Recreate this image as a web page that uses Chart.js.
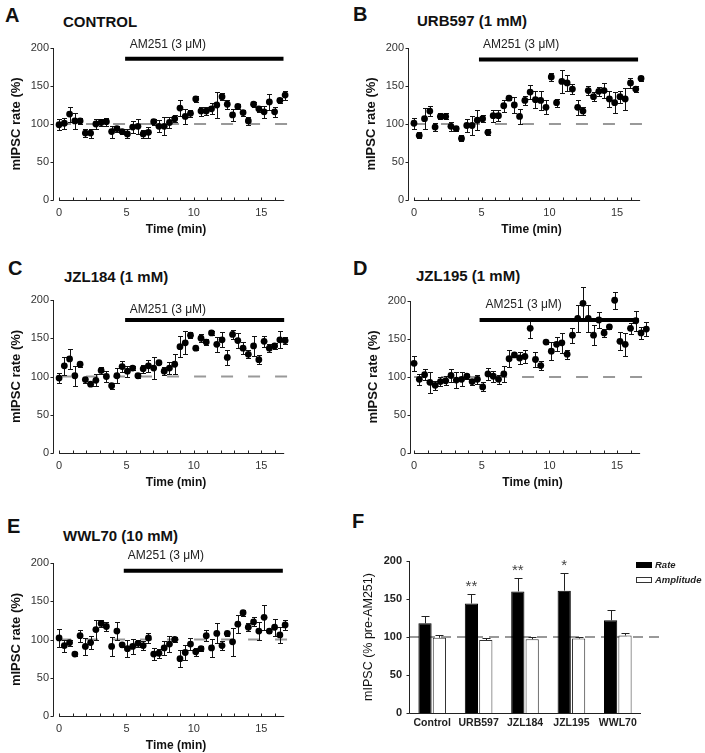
<!DOCTYPE html>
<html>
<head>
<meta charset="utf-8">
<title>mIPSC rate during AM251</title>
<script src="https://cdn.jsdelivr.net/npm/chart.js@4.4.1/dist/chart.umd.min.js"></script>
<style>
  html, body { margin: 0; padding: 0; background: #fff; }
  body { position: relative; width: 705px; height: 753px; overflow: hidden; font-family: 'Liberation Sans', Arial, sans-serif; color: #111; }
  canvas { position: absolute; }
  .txt { position: absolute; line-height: 1; white-space: nowrap; font-weight: bold; }
</style>
</head>
<body>
<script>
// sample times (min)
const minutes = [0, 0.39, 0.78, 1.17, 1.56, 1.95, 2.34, 2.73, 3.12, 3.51, 3.9, 4.29, 4.68, 5.07, 5.46,
  5.85, 6.24, 6.63, 7.02, 7.41, 7.8, 8.19, 8.58, 8.97, 9.36, 9.75, 10.14, 10.53, 10.92, 11.31,
  11.7, 12.09, 12.48, 12.87, 13.26, 13.65, 14.04, 14.43, 14.82, 15.21, 15.6, 15.99, 16.38, 16.77, 17.16];

// mIPSC rate (%) and SEM per panel
const controlRate = [99, 101, 113, 104, 104, 88, 88, 100, 102, 103, 90, 94, 90, 87, 96, 97, 87, 89, 103, 97, 97, 102, 107, 121, 110, 114, 133, 117, 117, 120, 125, 136, 126, 112, 123, 115, 104, 126, 120, 116, 129, 116, 131, 138];
const controlErr = [7, 7, 10, 10, 4, 5, 6, 6, 5, 5, 8, 4, 3, 6, 8, 10, 5, 7, 4, 8, 12, 7, 5, 10, 10, 5, 4, 6, 5, 7, 17, 5, 6, 8, 3, 4, 5, 3, 4, 8, 10, 7, 3, 6];

const urbRate = [101, 85, 107, 117, 96, 110, 110, 97, 94, 81, 98, 98, 105, 107, 89, 111, 111, 124, 134, 125, 110, 131, 142, 132, 131, 122, 162, 128, 156, 154, 146, 122, 117, 144, 136, 143, 144, 133, 128, 136, 133, 154, 146, 160];
const urbErr = [7, 4, 14, 7, 5, 4, 4, 6, 3, 4, 9, 12, 13, 5, 4, 8, 7, 8, 3, 11, 10, 6, 9, 11, 12, 9, 5, 5, 15, 10, 7, 10, 5, 6, 6, 6, 10, 10, 14, 8, 15, 6, 4, 3];

const jzl184Rate = [98, 114, 123, 101, 116, 96, 90, 95, 108, 100, 88, 101, 113, 107, 111, 101, 110, 114, 111, 118, 107, 111, 116, 139, 144, 154, 137, 150, 145, 157, 142, 148, 125, 155, 147, 137, 129, 140, 122, 146, 137, 140, 148, 147];
const jzl184Err = [6, 12, 13, 13, 3, 4, 3, 8, 5, 7, 4, 10, 7, 7, 3, 3, 5, 8, 14, 2, 5, 8, 13, 14, 15, 4, 2, 5, 4, 3, 10, 10, 10, 6, 10, 8, 5, 13, 6, 7, 5, 4, 11, 5];

const jzl195Rate = [118, 97, 103, 93, 89, 94, 95, 102, 96, 97, 101, 94, 97, 87, 104, 101, 97, 104, 124, 129, 125, 127, 164, 123, 115, 146, 134, 143, 145, 130, 155, 177, 197, 177, 155, 175, 158, 166, 201, 147, 143, 164, 174, 158, 163];
const jzl195Err = [10, 7, 7, 14, 6, 6, 6, 8, 10, 9, 3, 4, 6, 6, 8, 7, 6, 10, 11, 3, 8, 8, 13, 10, 6, 2, 12, 9, 13, 6, 10, 18, 21, 18, 13, 10, 5, 3, 11, 12, 15, 7, 13, 8, 9];

const wwlRate = [102, 92, 96, 81, 105, 91, 96, 113, 121, 117, 91, 111, 93, 88, 91, 95, 92, 102, 81, 82, 89, 94, 100, 75, 83, 94, 84, 88, 105, 89, 108, 92, 108, 97, 120, 135, 116, 123, 111, 129, 111, 116, 106, 119];
const wwlErr = [12, 8, 4, 3, 8, 11, 9, 13, 5, 6, 12, 12, 3, 11, 10, 5, 6, 6, 8, 6, 9, 10, 3, 11, 10, 8, 5, 3, 7, 12, 13, 6, 3, 18, 12, 4, 5, 6, 12, 16, 3, 11, 10, 7];

// panel F summary (% pre-AM251)
const groups = ['Control', 'URB597', 'JZL184', 'JZL195', 'WWL70'];
const rateMean = [118, 144, 160, 161, 122];
const rateSem = [10, 12, 17, 23, 14];
const ampMean = [99, 96, 97, 98, 102];
const ampSem = [4, 3, 3, 2, 3];
const stars = ['', '**', '**', '*', ''];

const timeTicks = [0, 5, 10, 15];
const rateTicks = [0, 50, 100, 150, 200];

Chart.defaults.font.family = "'Liberation Sans', Arial, sans-serif";
Chart.defaults.color = '#333';

function placeText(text, left, baseline, size, family) {
  const d = document.createElement('div');
  d.className = 'txt';
  d.textContent = text;
  d.style.left = left + 'px';
  d.style.top = (baseline - 0.8465 * size) + 'px';
  d.style.fontSize = size + 'px';
  if (family) d.style.fontFamily = family;
  document.body.appendChild(d);
}

function makeCanvas(area, pad) {
  const cv = document.createElement('canvas');
  const w = area.x1 - area.x0 + pad.l + pad.r;
  const h = area.y1 - area.y0 + pad.t + pad.b;
  cv.width = w; cv.height = h;
  cv.style.width = w + 'px'; cv.style.height = h + 'px';
  cv.style.left = (area.x0 - pad.l) + 'px';
  cv.style.top = (area.y0 - pad.t) + 'px';
  document.body.appendChild(cv);
  return cv;
}

// axes drawn by hand: offset x axis with minor ticks pointing up
const frame = {
  id: 'frame',
  beforeDatasetsDraw(chart, args, o) {
    const {ctx, scales: {x, y}} = chart;
    const left = Math.round(chart.chartArea.left) + 0.5;
    const base = Math.round(y.getPixelForValue(0)) + 0.5;
    ctx.save();
    ctx.strokeStyle = '#222';
    ctx.lineWidth = 1;
    ctx.beginPath();
    ctx.moveTo(left, Math.round(y.getPixelForValue(200)));
    ctx.lineTo(left, base);
    rateTicks.forEach(v => {
      const py = Math.round(y.getPixelForValue(v)) + 0.5;
      ctx.moveTo(left - 3, py); ctx.lineTo(left, py);
    });
    if (o.xEnd !== undefined) {
      ctx.moveTo(x.getPixelForValue(0), base);
      ctx.lineTo(x.getPixelForValue(o.xEnd), base);
      for (let m = 0; m <= Math.floor(o.xEnd); m++) {
        const px = Math.round(x.getPixelForValue(m)) + 0.5;
        ctx.moveTo(px, base); ctx.lineTo(px, base - 3);
      }
    } else {
      ctx.moveTo(left, base); ctx.lineTo(chart.chartArea.right, base);
    }
    ctx.stroke();
    ctx.restore();
  }
};

// grey dashed 100 % line
const refLine = {
  id: 'refLine',
  beforeDatasetsDraw(chart, args, o) {
    const {ctx, scales: {x, y}} = chart;
    const py = y.getPixelForValue(100);
    const x0 = o.fromZero ? x.getPixelForValue(0) : chart.chartArea.left;
    ctx.save();
    ctx.strokeStyle = '#999';
    ctx.lineWidth = 2;
    ctx.setLineDash(o.dash);
    ctx.beginPath();
    ctx.moveTo(x0, py);
    ctx.lineTo(chart.chartArea.right + (o.extend || 0), py);
    ctx.stroke();
    ctx.restore();
  }
};

const errorBars = {
  id: 'errorBars',
  beforeDatasetsDraw(chart) {
    const {ctx, scales: {x, y}} = chart;
    ctx.save();
    ctx.strokeStyle = '#111';
    ctx.lineWidth = 1;
    ctx.beginPath();
    chart.data.datasets[0].data.forEach(d => {
      const px = Math.round(x.getPixelForValue(d.x)) + 0.5;
      const top = Math.round(y.getPixelForValue(d.y + d.e)) + 0.5;
      const bot = Math.round(y.getPixelForValue(d.y - d.e)) + 0.5;
      ctx.moveTo(px, top); ctx.lineTo(px, bot);
      ctx.moveTo(px - 2.5, top); ctx.lineTo(px + 2.5, top);
      ctx.moveTo(px - 2.5, bot); ctx.lineTo(px + 2.5, bot);
    });
    ctx.stroke();
    ctx.restore();
  }
};

// AM251 application bar and its label
const drug = {
  id: 'drug',
  afterDatasetsDraw(chart, args, o) {
    const {ctx, scales: {x, y}} = chart;
    ctx.save();
    ctx.strokeStyle = '#000';
    ctx.lineWidth = 4;
    ctx.beginPath();
    ctx.moveTo(x.getPixelForValue(o.from), y.getPixelForValue(o.level));
    ctx.lineTo(x.getPixelForValue(o.to), y.getPixelForValue(o.level));
    ctx.stroke();
    ctx.fillStyle = '#222';
    ctx.font = "12px 'Liberation Sans', Arial, sans-serif";
    ctx.textBaseline = 'middle';
    ctx.fillText(o.text, x.getPixelForValue(o.textX), y.getPixelForValue(o.textY));
    ctx.restore();
  }
};

const panels = [
  {letter: 'A', lx: 5, lb: 22, title: 'CONTROL', tx: 63, tb: 27, rate: controlRate, err: controlErr,
   area: {x0: 53, y0: 48, x1: 299, y1: 200}, xmin: -0.45, bar: {level: 186, from: 4.9, to: 16.65, textX: 5.25, textY: 204}},
  {letter: 'B', lx: 353, lb: 21, title: 'URB597 (1 mM)', tx: 417, tb: 26, rate: urbRate, err: urbErr,
   area: {x0: 408, y0: 48, x1: 655, y1: 200}, xmin: -0.44, bar: {level: 185, from: 4.8, to: 16.55, textX: 5.1, textY: 204}},
  {letter: 'C', lx: 8, lb: 275, title: 'JZL184 (1 mM)', tx: 64, tb: 282, rate: jzl184Rate, err: jzl184Err,
   area: {x0: 53, y0: 300, x1: 299, y1: 453}, xmin: -0.45, bar: {level: 174, from: 4.9, to: 16.7, textX: 5.25, textY: 187}},
  {letter: 'D', lx: 353, lb: 275, title: 'JZL195 (1 mM)', tx: 416, tb: 281, rate: jzl195Rate, err: jzl195Err,
   area: {x0: 410, y0: 301, x1: 655, y1: 453}, xmin: -0.3, bar: {level: 175, from: 4.84, to: 16.6, textX: 5.28, textY: 195}},
  {letter: 'E', lx: 7, lb: 533, title: 'WWL70 (10 mM)', tx: 63, tb: 541, rate: wwlRate, err: wwlErr,
   area: {x0: 53, y0: 563, x1: 299, y1: 716}, xmin: -0.45, bar: {level: 190, from: 4.8, to: 16.6, textX: 5.1, textY: 209}}
];

const pad = {l: 52, t: 20, r: 8, b: 42};

panels.forEach(p => {
  placeText(p.letter, p.lx, p.lb, 20);
  placeText(p.title, p.tx, p.tb, 15);
  const cv = makeCanvas(p.area, pad);
  new Chart(cv, {
    type: 'scatter',
    data: {
      datasets: [{
        data: p.rate.map((v, i) => ({x: minutes[i], y: v, e: p.err[i]})),
        backgroundColor: '#000',
        borderWidth: 0,
        pointRadius: 3.4,
        pointHoverRadius: 3.4,
        clip: false
      }]
    },
    options: {
      responsive: false,
      animation: false,
      events: [],
      layout: {padding: {top: pad.t, right: pad.r, left: 0, bottom: 0}},
      plugins: {
        legend: {display: false},
        tooltip: {enabled: false},
        frame: {xEnd: 16.7},
        refLine: {fromZero: true, dash: [12, 15]},
        drug: Object.assign({text: 'AM251 (3 \u03bcM)'}, p.bar)
      },
      scales: {
        x: {
          type: 'linear', min: p.xmin, max: 17.8,
          afterBuildTicks: s => { s.ticks = timeTicks.map(v => ({value: v})); },
          afterFit: s => { s.height = pad.b; },
          grid: {display: false, drawTicks: false},
          border: {display: false},
          ticks: {padding: 6, color: '#333', font: {size: 11}, maxRotation: 0, autoSkip: false},
          title: {display: true, text: 'Time (min)', color: '#111', font: {size: 12, weight: 'bold'}, padding: {top: 0, bottom: 5}}
        },
        y: {
          min: 0, max: 200,
          afterBuildTicks: s => { s.ticks = rateTicks.map(v => ({value: v})); },
          afterFit: s => { s.width = pad.l; },
          grid: {display: false, drawTicks: false},
          border: {display: false},
          ticks: {padding: 4, color: '#333', font: {size: 11}},
          title: {display: true, text: 'mIPSC rate (%)', color: '#111', font: {size: 13, weight: 'bold'}, padding: {top: 8, bottom: 0}}
        }
      }
    },
    plugins: [frame, refLine, errorBars, drug]
  });
});

// panel F: bars with upward SEM, stars and legend
const barExtras = {
  id: 'barExtras',
  afterDatasetsDraw(chart) {
    const {ctx, scales: {y}} = chart;
    ctx.save();
    ctx.lineWidth = 1;
    ctx.strokeStyle = '#222';
    ctx.beginPath();
    chart.data.datasets.forEach((ds, di) => {
      chart.getDatasetMeta(di).data.forEach((bar, i) => {
        const px = Math.round(bar.x) + 0.5;
        const top = Math.round(y.getPixelForValue(ds.data[i] + ds.sem[i])) + 0.5;
        ctx.moveTo(px, y.getPixelForValue(ds.data[i])); ctx.lineTo(px, top);
        ctx.moveTo(px - 4, top); ctx.lineTo(px + 4, top);
      });
    });
    ctx.stroke();
    ctx.fillStyle = '#444';
    ctx.font = "15px 'Liberation Sans', Arial, sans-serif";
    ctx.textAlign = 'center';
    ctx.textBaseline = 'alphabetic';
    const rate = chart.data.datasets[0];
    chart.getDatasetMeta(0).data.forEach((bar, i) => {
      if (stars[i]) ctx.fillText(stars[i], bar.x, y.getPixelForValue(rate.data[i] + rate.sem[i]) - 3);
    });
    // legend
    const lx = chart.chartArea.right - 5;
    ctx.textAlign = 'left';
    ctx.font = "italic bold 9.5px 'Liberation Sans', Arial, sans-serif";
    chart.data.datasets.forEach((ds, di) => {
      const ty = Math.round(chart.chartArea.top) + 1 + di * 15;
      ctx.fillStyle = ds.backgroundColor;
      ctx.fillRect(lx, ty, 16, 6);
      ctx.strokeStyle = ds.borderColor;
      ctx.strokeRect(lx + 0.5, ty + 0.5, 15, 5);
      ctx.fillStyle = '#222';
      ctx.fillText(ds.label, lx + 19, ty + 6);
    });
    ctx.restore();
  }
};

placeText('F', 352, 528, 20);
const padF = {l: 52, t: 20, r: 64, b: 30};
const cvF = makeCanvas({x0: 409, y0: 561, x1: 641, y1: 713}, padF);
new Chart(cvF, {
  type: 'bar',
  data: {
    labels: groups,
    datasets: [
      {label: 'Rate', data: rateMean, sem: rateSem, backgroundColor: '#000', borderColor: '#000', borderWidth: 1},
      {label: 'Amplitude', data: ampMean, sem: ampSem, backgroundColor: '#fff', borderColor: '#333', borderWidth: 1}
    ]
  },
  options: {
    responsive: false,
    animation: false,
    events: [],
    layout: {padding: {top: padF.t, right: padF.r, left: 0, bottom: 0}},
    datasets: {bar: {categoryPercentage: 0.62, barPercentage: 0.92}},
    plugins: {
      legend: {display: false},
      tooltip: {enabled: false},
      frame: {},
      refLine: {fromZero: false, dash: [10, 6], extend: 18}
    },
    scales: {
      x: {
        afterFit: s => { s.height = padF.b; },
        grid: {display: false, drawTicks: false},
        border: {display: false},
        ticks: {padding: 4, color: '#222', font: {size: 10.5, weight: 'bold'}, maxRotation: 0, autoSkip: false}
      },
      y: {
        min: 0, max: 200,
        afterBuildTicks: s => { s.ticks = rateTicks.map(v => ({value: v})); },
        afterFit: s => { s.width = padF.l; },
        grid: {display: false, drawTicks: false},
        border: {display: false},
        ticks: {padding: 7, color: '#222', font: {size: 11, weight: 'bold'}},
        title: {display: true, text: 'mIPSC (% pre-AM251)', color: '#111', font: {size: 12.5}, padding: {top: 4, bottom: 0}}
      }
    }
  },
  plugins: [refLine, frame, barExtras]
});
</script>
</body>
</html>
